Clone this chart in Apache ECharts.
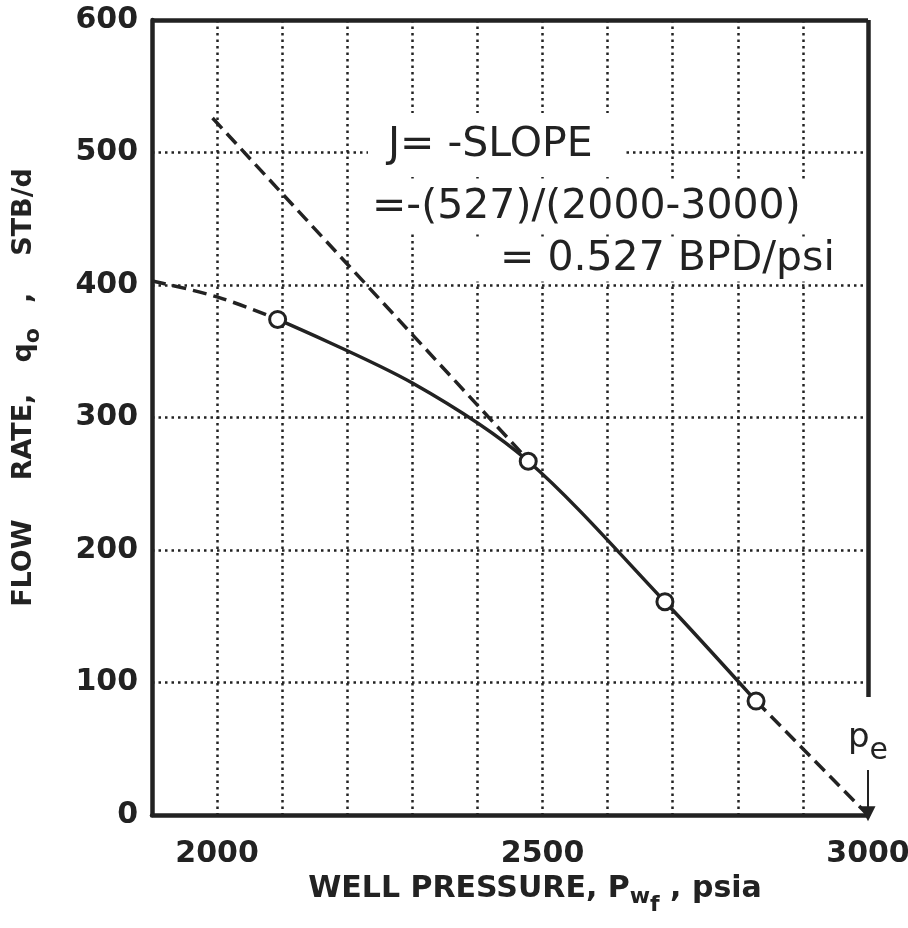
<!DOCTYPE html>
<html><head><meta charset="utf-8">
<script src="https://cdn.jsdelivr.net/npm/echarts@6/dist/echarts.min.js"></script>
<style>html,body{margin:0;padding:0;background:#fff;overflow:hidden}#c{width:908px;height:928px}</style>
</head><body><div id="c"></div>
<script>
// ---- data ----
const xTickLabels = [2000, 2500, 3000];
const yTickLabels = [0, 100, 200, 300, 400, 500, 600];
const testPressure = [2093, 2478, 2688, 2828];
const testRate = [374, 267, 161, 86];
const iprCurvePressure = [2093, 2300, 2478, 2688, 2828];
const iprCurveRate = [374, 326, 267, 161, 86];
const lowEndPressure = [1900, 2000, 2093];
const lowEndRate = [403, 391, 374];
const tangentPressure = [1993, 2472];
const tangentRate = [526, 271];
const tailPressure = [2828, 3000];
const tailRate = [86, 0];
const reservoirPressure = 3000;
const annotationLines = ['J= -SLOPE', '=-(527)/(2000-3000)', '= 0.527 BPD/psi'];

const zip = (a, b) => a.map((v, i) => [v, b[i]]);
const ink = '#222';
const FF = 'DejaVu Sans';
const X_MIN = 1900, X_MAX = 3000, Y_MIN = 0, Y_MAX = 600;

const chart = echarts.init(document.getElementById('c'), null, {renderer: 'canvas'});
const dashed = {type: [14, 7], width: 3.5, color: ink, cap: 'butt'};

const option = {
  animation: false,
  backgroundColor: '#fff',
  grid: {left: 152, right: 40, top: 20, bottom: 113, containLabel: false, outerBoundsMode: 'none'},
  xAxis: {
    type: 'value', min: X_MIN, max: X_MAX, interval: 100,
    axisLine: {show: true, onZero: false, lineStyle: {color: ink, width: 4.5}},
    axisTick: {show: false},
    axisLabel: {
      formatter: v => (xTickLabels.includes(v) ? String(v) : ''),
      color: ink, fontSize: 30, fontFamily: FF, fontWeight: 'bold', margin: 24
    },
    splitLine: {show: true, showMinLine: false, showMaxLine: false,
      lineStyle: {type: [2.5, 4], color: ink, width: 2.5}},
    name: 'WELL PRESSURE, {p|P}{w|w}{f|f} , psia',
    nameLocation: 'middle', nameGap: 44,
    nameTextStyle: {
      color: ink, fontSize: 30, fontFamily: FF, fontWeight: 'bold', padding: [0, 0, 0, 50],
      rich: {
        p: {color: ink, fontSize: 30, fontFamily: FF, fontWeight: 'bold'},
        w: {color: ink, fontSize: 22, fontFamily: FF, fontWeight: 'bold', padding: [16, 0, 0, 0]},
        f: {color: ink, fontSize: 22, fontFamily: FF, fontWeight: 'bold', padding: [32, 0, 0, 0]}
      }
    }
  },
  yAxis: {
    type: 'value', min: Y_MIN, max: Y_MAX, interval: 100,
    axisLine: {show: true, onZero: false, lineStyle: {color: ink, width: 4.5}},
    axisTick: {show: false},
    axisLabel: {
      formatter: v => (yTickLabels.includes(v) ? String(v) : ''),
      color: ink, fontSize: 30, fontFamily: FF, fontWeight: 'bold', margin: 14
    },
    splitLine: {show: true, showMinLine: false, showMaxLine: false,
      lineStyle: {type: [2.5, 4], color: ink, width: 2.5}},
    name: '{f|FLOW} {r|RATE,} {q|q}{o|o} {c|,} {s|STB/d}',
    nameLocation: 'middle', nameGap: 108,
    nameTextStyle: {
      color: ink, fontSize: 26, fontFamily: FF, fontWeight: 'bold', padding: [0, 0, 0, 60],
      rich: {
        f: {color: ink, fontSize: 27, fontFamily: FF, fontWeight: 'bold', padding: [0, 30, 0, 0]},
        r: {color: ink, fontSize: 27, fontFamily: FF, fontWeight: 'bold', padding: [0, 22, 0, 0]},
        q: {color: ink, fontSize: 27, fontFamily: FF, fontWeight: 'bold'},
        o: {color: ink, fontSize: 22, fontFamily: FF, fontWeight: 'bold', padding: [18, 16, 0, 0]},
        c: {color: ink, fontSize: 27, fontFamily: FF, fontWeight: 'bold', padding: [0, 28, 0, 0]},
        s: {color: ink, fontSize: 27, fontFamily: FF, fontWeight: 'bold'}
      }
    }
  },
  series: [
    {name: 'low-rate extension', type: 'line', data: zip(lowEndPressure, lowEndRate),
      smooth: 0.4, symbol: 'none', lineStyle: dashed, z: 3},
    {name: 'tangent', type: 'line', data: zip(tangentPressure, tangentRate),
      symbol: 'none', lineStyle: dashed, z: 3},
    {name: 'IPR curve', type: 'line', data: zip(iprCurvePressure, iprCurveRate),
      smooth: 0.3, symbol: 'none', lineStyle: {width: 3.5, color: ink}, z: 4},
    {name: 'extrapolation', type: 'line', data: zip(tailPressure, tailRate),
      symbol: 'none', lineStyle: dashed, z: 3, clip: false,
      markLine: {
        silent: true, symbol: 'none', animation: false,
        lineStyle: {type: 'solid', color: ink, width: 4.5},
        label: {show: false},
        data: [
          [{coord: [X_MIN, Y_MAX]}, {coord: [X_MAX, Y_MAX]}],
          [{coord: [X_MAX, Y_MAX]}, {coord: [X_MAX, 89]}]
        ]
      }},
    {name: 'pe arrow', type: 'line', data: [], symbol: 'none', clip: false, z: 5,
      markLine: {
        silent: true, animation: false, symbol: ['none', 'triangle'], symbolSize: 15,
        lineStyle: {type: 'solid', color: ink, width: 2},
        label: {
          show: true, position: 'start', distance: 4,
          formatter: '{p|p}{e|e}',
          rich: {
            p: {color: ink, fontSize: 34, fontFamily: FF},
            e: {color: ink, fontSize: 30, fontFamily: FF, padding: [26, 0, 0, 0]}
          }
        },
        data: [[{coord: [reservoirPressure, 34]}, {coord: [reservoirPressure, 1]}]]
      }},
    {name: 'test points', type: 'scatter', data: zip(testPressure, testRate),
      symbol: 'circle', symbolSize: 16, z: 6,
      itemStyle: {color: '#fff', borderColor: ink, borderWidth: 3, opacity: 1}}
  ],
  graphic: [
    {type: 'text', z: 20, x: 368, y: 145,
      style: {text: annotationLines[0], fontSize: 41, fontFamily: FF, fill: ink,
        backgroundColor: '#fff', padding: [13, 32, 10, 20],
        textAlign: 'left', textVerticalAlign: 'middle', align: 'left', verticalAlign: 'middle'}},
    {type: 'text', z: 20, x: 365, y: 207,
      style: {text: annotationLines[1], fontSize: 41, fontFamily: FF, fill: ink,
        backgroundColor: '#fff', padding: [6, 40, 6, 7],
        textAlign: 'left', textVerticalAlign: 'middle', align: 'left', verticalAlign: 'middle'}},
    {type: 'text', z: 20, x: 468, y: 259,
      style: {text: annotationLines[2], fontSize: 41, fontFamily: FF, fill: ink,
        backgroundColor: '#fff', padding: [4, 10, 0, 32],
        textAlign: 'left', textVerticalAlign: 'middle', align: 'left', verticalAlign: 'middle'}}
  ]
};
chart.setOption(option);
</script></body></html>
